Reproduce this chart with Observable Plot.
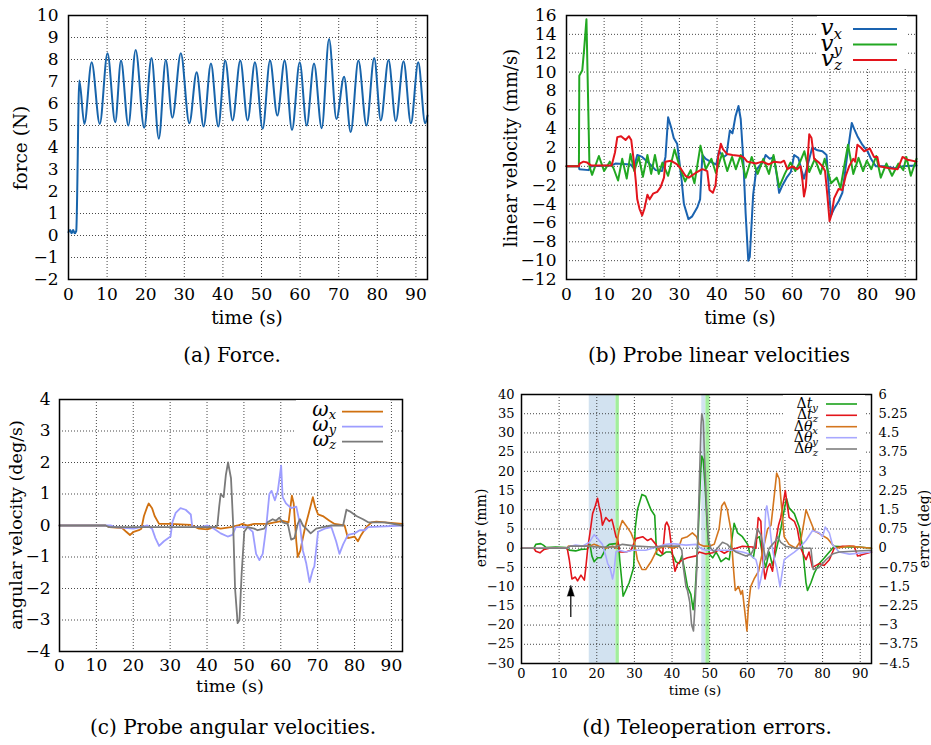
<!DOCTYPE html>
<html><head><meta charset="utf-8">
<script src="https://cdn.jsdelivr.net/npm/d3@7"></script>
<script src="https://cdn.jsdelivr.net/npm/@observablehq/plot@0.6"></script>
<style>
body{margin:0;background:#fff;}
#root{position:relative;width:931px;height:745px;background:#fff;font-family:"DejaVu Serif",serif;color:#000;overflow:hidden;}
.panel{position:absolute;}
.cap{position:absolute;font-size:20px;line-height:24px;white-space:nowrap;transform:translateX(-50%);}
</style></head><body><div id="root"></div>
<script>
// ---------- ticks ----------
const timeTicks = [0,10,20,30,40,50,60,70,80,90];
const forceTicks = [-2,-1,0,1,2,3,4,5,6,7,8,9,10];
const linTicks = [-12,-10,-8,-6,-4,-2,0,2,4,6,8,10,12,14,16];
const angTicks = [-4,-3,-2,-1,0,1,2,3,4];
const mmTicks = [-30,-25,-20,-15,-10,-5,0,5,10,15,20,25,30,35,40];
const degPerMm = 0.15; // right axis: 6 deg <-> 40 mm

// ---------- captions / labels ----------
const captions = ["(a) Force.", "(b) Probe linear velocities", "(c) Probe angular velocities.", "(d) Teleoperation errors."];
const timeLabel = "time (s)";
const yLabels = ["force (N)", "linear velocity (mm/s)", "angular velocity (deg/s)", "error (mm)", "error (deg)"];

// ---------- (a) force [t, N] ----------
const force = [[0,0.15],[0.4,0.25],[0.8,0.1],[1.2,0.25],[1.6,0.1],[2.0,0.2],[2.8,7.04],[4.1,5.07],[6.0,7.87],[8.1,5.07],[10.1,8.28],[12.1,5.15],[13.6,7.95],[15.5,5.0],[17.4,8.43],[19.6,4.9],[21.5,8.07],[23.4,4.4],[25.2,7.98],[26.9,5.35],[29.1,8.28],[31.3,5.1],[33.2,7.42],[35.0,4.95],[36.9,7.82],[38.8,4.95],[40.6,7.95],[42.5,5.23],[44.5,7.95],[46.4,5.23],[48.3,7.87],[50.3,4.85],[52.2,7.95],[54.1,5.45],[56.0,7.95],[57.9,4.8],[59.9,7.87],[61.7,5.0],[63.6,7.82],[65.6,4.88],[67.5,8.93],[69.4,5.3],[71.4,7.22],[73.1,4.7],[75.1,7.95],[77.2,5.0],[79.2,8.07],[80.9,5.23],[82.9,7.98],[84.8,5.2],[86.8,7.92],[88.7,5.1],[90.6,7.87],[92.4,5.1],[93,5.45]];

// ---------- (b) linear velocities [t, mm/s] ----------
const vx = [[0,0],[3.3,0],[3.4,-0.3],[5.9,-0.4],[6.5,0],[12,0.1],[13,0.3],[17,0.2],[17.9,-0.2],[18.8,1.2],[20.1,1.0],[22,0.3],[23.7,-0.4],[25.4,-0.5],[26.3,1.0],[27.0,5.2],[27.9,4.0],[28.5,3.0],[29.4,2.4],[30.0,0.5],[30.6,-1.5],[31.2,-4.0],[32.4,-5.6],[33.4,-5.3],[34.8,-4.3],[35.5,-3.5],[36.1,1.2],[37.0,0.8],[38.7,0.4],[39.8,0.2],[40.5,1.6],[41.8,1.0],[42.5,1.2],[43.4,3.8],[44.1,3.5],[44.9,5.3],[45.7,6.4],[46.3,5.0],[47.0,0.5],[47.6,-5],[48.3,-10],[48.7,-9.6],[49.6,-3],[50.4,-0.4],[51.6,0.2],[52.3,0.5],[52.9,1.2],[54.0,0.8],[55.1,1.0],[55.9,-1.0],[56.5,-2.8],[57.4,-2.0],[58.5,-1.2],[59.6,-0.6],[60.5,1.2],[61.6,0.9],[62.5,-0.5],[63.1,-1.3],[64.0,0.0],[65.3,2.0],[66.7,1.7],[68.0,1.6],[69.1,1.2],[69.8,-3],[70.3,-5.2],[71.1,-4.5],[72.3,-3.7],[73.3,-2.8],[74.6,1.2],[75.8,4.6],[76.4,4.0],[77.3,3.2],[78.6,2.3],[80.0,1.6],[80.9,0.8],[82.2,0.0],[84.9,0.0],[87.1,-0.2],[89.3,0.0],[93,0.1]];
const vy = [[0,0],[3.3,0],[3.4,9.6],[4.2,10.2],[4.7,12.5],[5.3,15.6],[6.1,0],[6.8,-0.9],[8.6,1.1],[10.0,-0.5],[11.5,0.5],[12.5,-0.2],[13.7,-1.5],[14.8,0.8],[16.0,-1.3],[17.0,1.3],[18.0,-0.5],[19.2,1.0],[20.3,-1.1],[21.5,1.2],[22.5,-0.8],[23.5,1.2],[24.5,-0.8],[25.5,0.4],[27.0,-1.0],[28.7,1.8],[30.2,-0.2],[31.5,-1.6],[33.0,-0.4],[34.0,-1.8],[35.6,2.2],[37.0,-0.3],[38.5,0.8],[39.7,-0.7],[41.4,1.4],[42.7,-0.5],[44.0,1.0],[45.0,-0.3],[46.3,1.2],[47.6,-1.2],[49.2,1.0],[50.8,-0.8],[52.3,0.8],[53.8,-0.8],[55.0,1.2],[56.5,-2.2],[58.0,-0.8],[59.5,0.4],[60.8,-0.5],[62.2,0.6],[63.2,1.6],[64.5,-0.6],[66.0,0.8],[67.5,-0.8],[68.6,0.8],[70.3,-1.8],[71.8,-1.2],[72.8,-2.3],[74.0,0.5],[74.8,2.3],[76.2,-0.8],[77.6,0.9],[78.8,-0.5],[79.8,0.6],[81.0,-0.3],[82.3,1.1],[83.5,-1.2],[85.0,0.3],[86.5,-1.0],[88.2,0.3],[89.5,-0.4],[90.3,1.0],[91.5,-1.0],[93,0.8]];
const vz = [[0,0],[3.3,0],[3.5,0.3],[4.5,0.5],[5.5,0.4],[6.5,0.1],[12.0,0.1],[12.9,1.5],[13.5,3.1],[14.5,3.2],[15.7,2.8],[16.6,3.2],[17.2,2.8],[17.9,0.5],[18.4,-1.5],[18.8,-3.5],[19.4,-4.5],[20.1,-5.2],[20.7,-4.5],[21.5,-3.0],[22.1,-3.5],[23.0,-2.9],[24.1,-2.7],[25.0,-2.2],[25.9,-1.2],[26.3,0.5],[27.7,0.6],[29.4,0.2],[30.3,-0.2],[31.6,-1.0],[32.5,-1.2],[34.3,-0.7],[36.1,-0.3],[37.4,-0.5],[38.0,-2.5],[38.9,-2.8],[39.6,-2.0],[40.3,1.0],[41.0,2.4],[41.6,1.8],[42.7,1.3],[44.1,1.2],[46.3,1.1],[47.2,0.9],[48.0,0.5],[50.3,0.3],[52.0,0.5],[53.8,0.2],[55.1,0.5],[56.9,0.4],[57.8,0.6],[58.7,-0.3],[60.0,0.0],[61.3,-0.3],[62.2,0.0],[62.7,-1.5],[63.1,-3.2],[63.6,-2.2],[64.5,3.4],[65.1,3.0],[65.8,0.8],[67.1,0.4],[68.0,0.0],[68.7,-0.5],[69.3,-3.0],[69.9,-5.8],[70.5,-5.0],[71.1,-3.4],[72.3,-2.4],[73.3,-2.5],[74.2,-1.0],[75.1,0.0],[76.2,0.8],[76.7,0.5],[77.3,2.3],[78.2,2.0],[79.1,1.6],[80.6,1.9],[81.7,1.0],[82.6,1.0],[83.1,0.0],[85.8,-0.2],[88.0,-0.3],[89.3,1.0],[90.6,0.7],[93,0.5]];

// ---------- (c) angular velocities [t, deg/s] ----------
const wx = [[0,0],[12.5,0],[13.5,-0.05],[17,-0.08],[18.1,-0.2],[19.1,-0.3],[20.1,-0.2],[21.5,-0.15],[22.2,-0.1],[22.9,0.3],[23.8,0.6],[24.2,0.7],[25.1,0.55],[25.8,0.3],[27.0,0.05],[30.1,0.05],[35.6,0.02],[37.8,-0.1],[40.1,-0.12],[41.9,-0.05],[43.7,-0.1],[46.5,-0.05],[48.3,0.0],[49.6,0.05],[51.0,0.0],[52.8,0.05],[56.4,0.05],[58.3,0.1],[60.5,0.15],[62.1,0.1],[63.0,0.95],[63.5,0.7],[64.2,-0.5],[64.6,-1.0],[65.3,-0.8],[65.8,-0.5],[66.7,0.0],[67.6,0.4],[68.7,0.9],[69.3,0.6],[70.1,0.35],[71.4,0.3],[73.2,0.15],[74.6,0.05],[77.3,0.0],[78.2,-0.4],[80.0,-0.35],[80.9,-0.5],[81.8,-0.3],[83.2,-0.05],[84.6,0.1],[85.9,0.12],[88.2,0.1],[93,0.05]];
const wy = [[0,0],[14,0],[15,-0.05],[20.1,-0.1],[22.0,-0.05],[23.8,0.0],[25.1,-0.1],[26.0,-0.4],[27.0,-0.65],[28.3,-0.5],[30.1,-0.35],[30.6,0.1],[31.5,0.4],[32.8,0.55],[34.2,0.5],[35.6,0.35],[36.0,-0.05],[38.3,-0.05],[40.1,0.0],[41.9,-0.1],[43.7,-0.25],[45.6,-0.35],[46.9,-0.3],[47.8,-0.05],[51.0,-0.05],[52.4,-0.2],[53.3,-0.9],[54.2,-1.1],[55.1,-0.9],[56.0,-0.1],[56.9,1.0],[57.5,1.1],[58.4,0.8],[59.2,1.1],[60.1,1.9],[60.5,0.9],[61.4,0.7],[62.8,0.55],[64.2,0.6],[65.1,0.1],[66.0,-0.8],[66.9,-1.2],[67.8,-1.8],[68.7,-1.4],[69.1,-1.3],[70.1,-0.2],[71.9,-0.1],[73.7,-0.05],[75.0,-0.5],[75.9,-0.9],[76.9,-0.6],[78.2,-0.3],[80.0,-0.25],[81.4,-0.15],[82.8,-0.15],[83.7,-0.05],[93,0.0]];
const wz = [[0,0],[12.5,0],[13.5,-0.05],[19,-0.05],[29,-0.05],[40.1,-0.05],[42.4,-0.05],[42.8,0.0],[43.3,0.6],[43.7,1.0],[44.5,0.9],[45.1,1.6],[45.7,2.0],[46.5,1.5],[47.1,0.0],[47.6,-2.0],[48.3,-3.1],[48.8,-3.0],[49.4,-1.5],[50.1,-0.2],[51.0,-0.05],[52.8,-0.1],[53.7,-0.15],[55.5,-0.1],[56.4,0.1],[57.8,0.2],[58.7,0.15],[59.6,0.25],[60.5,0.1],[61.9,0.05],[62.8,-0.45],[63.7,-0.4],[64.6,0.05],[65.2,0.2],[66.0,0.0],[66.9,-0.1],[68.1,-0.25],[69.6,-0.1],[71.4,-0.05],[73.7,0.0],[76.9,0.0],[77.8,0.5],[78.7,0.45],[80.5,0.3],[82.3,0.2],[83.7,0.1],[88.2,0.1],[93,0.0]];

// ---------- (d) errors: translation [t, mm], rotation [t, deg] ----------
const dty = [[0,0],[3.3,0],[3.8,1.0],[5.1,1.2],[5.8,0.8],[6.5,0.2],[9.1,0.3],[11.8,0.2],[12.7,-0.5],[14.4,-0.7],[15.8,-0.3],[17.5,-0.2],[18.2,1.0],[18.7,-2.0],[19.3,-3.5],[20.2,-2.5],[21.1,-2.5],[21.7,-1.5],[22.4,0.2],[23.3,1.0],[25.1,1.2],[25.8,1.0],[26.1,-3],[26.6,-8],[27.0,-12.5],[27.7,-11],[28.6,-9],[29.2,-7],[29.8,-5],[30.2,5],[30.8,10],[32.0,14],[33.0,13.5],[34.4,10],[35.4,8.5],[35.9,-1.5],[37.0,-2.0],[38.4,-1.0],[39.7,-1.0],[40.6,-2.5],[41.0,-3.5],[41.9,-4],[42.6,-2],[43.2,-5],[44.1,-10],[45.0,-12],[45.6,-16],[46.1,-12],[46.5,-5],[47.0,5],[47.6,20],[47.9,24],[48.3,23],[48.8,16],[49.4,5],[49.9,-1.5],[50.8,-2.5],[51.7,-1.0],[52.3,-2.0],[53.0,-3.5],[54.3,-2.5],[55.2,-3.0],[56.5,6.5],[57.4,4],[58.7,3],[60.1,1],[60.7,-1.5],[61.6,-2.5],[62.4,2.5],[63.2,3.0],[64.0,-1.5],[64.9,-5],[65.8,-1],[66.7,-4.5],[67.8,0],[68.9,5],[69.8,10],[70.4,13],[71.1,10.5],[72.5,9],[73.8,5.5],[74.7,0],[75.6,-9],[76.0,-11],[76.9,-9],[77.8,-6.5],[79.1,-4],[80.5,-2.5],[81.8,-1],[83.1,0.5],[87.1,0.3],[89.7,0.3],[93,0]];
const dtz = [[0,0],[3.3,0],[3.8,-0.8],[4.9,-1.2],[6.0,-0.3],[7.4,0],[11.8,0],[12.2,-0.3],[12.7,-3],[13.4,-8],[14.3,-7.5],[14.9,-8.5],[15.8,-7],[16.7,-8.3],[17.1,-5],[17.6,0],[18.2,4],[18.9,9],[19.6,11],[20.2,13],[20.6,11],[21.1,9],[21.5,6],[22.4,8],[23.3,7],[24.0,7.5],[24.4,6],[25.1,3],[25.5,2.5],[26.1,-1],[27.7,-1],[29.1,-0.5],[30.4,2.5],[32.2,3],[33.5,2],[34.4,2.5],[35.7,1],[36.6,-0.5],[37.5,-1.5],[38.2,6],[38.6,6.8],[39.2,5.5],[40.3,-3],[40.8,-6],[41.5,-4],[42.8,-3],[44.1,-2.5],[46.4,-2],[47.2,-1],[49.0,-1.5],[50.8,-1.2],[52.5,-0.5],[53.9,-1.3],[55.7,-0.3],[57.0,0],[58.7,0.5],[61.4,0.3],[62.3,0],[62.9,8],[63.6,7],[64.0,-2],[64.7,-8],[65.4,-5],[66.0,-4],[66.7,-6],[67.6,2],[68.3,6],[68.9,8],[70.1,15],[70.5,12],[71.1,8],[72.5,7],[73.3,5],[74.2,0],[75.1,-2],[75.6,-3],[76.4,-1],[77.3,-5],[79.1,-4],[80.4,-4.5],[81.8,-3],[83.1,0],[85.3,0.5],[88.4,0.5],[89.3,-2],[91.1,-1.5],[93,-1.0]];
const dthx = [[0,0],[12,0],[12.5,0.08],[16.2,0.08],[18,0.08],[19.3,0.15],[20.6,0.08],[22.4,0],[24.2,0.08],[25.1,0],[26.0,0.75],[26.8,1.08],[27.7,0.9],[29.1,0.6],[29.9,0.3],[30.8,-0.45],[32.0,-0.83],[33.0,-0.83],[34.4,-0.53],[35.7,-0.15],[36.6,0],[38.4,0.08],[40.1,0],[41.9,0.08],[42.6,0.38],[44.1,0.45],[45.4,0.6],[46.5,0.45],[47.2,0.15],[48.5,0.08],[49.9,0.08],[51.2,0.15],[52.5,0.75],[53.2,1.65],[53.9,1.8],[54.7,1.5],[55.6,0.75],[56.3,-0.75],[56.8,-1.65],[57.7,-1.5],[58.3,-1.8],[58.7,-1.65],[59.4,-2.55],[59.9,-3.23],[60.3,-2.25],[60.9,-1.5],[61.8,-1.2],[63.0,-0.9],[63.6,-0.45],[64.5,0.15],[65.4,0.75],[66.3,0.9],[67.2,2.1],[67.8,2.93],[68.5,2.7],[68.9,1.95],[69.8,0.45],[71.1,0.15],[72.9,0],[74.2,0.3],[75.1,1.05],[75.6,1.5],[76.4,1.2],[77.8,0.68],[79.6,0.53],[81.3,0.38],[82.6,0.15],[83.5,0],[87.1,0.08],[93,0]];
const dthy = [[0,0],[12,0],[13,0.08],[14.4,0.12],[16.2,0.08],[18.0,0.23],[19.3,0.53],[20.2,0.38],[21.5,0.15],[22.4,-0.3],[22.9,-0.6],[23.5,-0.75],[24.2,-1.2],[24.6,-0.9],[25.1,-0.15],[26.0,-0.08],[27.7,-0.15],[29.5,-0.08],[33.0,-0.08],[35.5,0.03],[38.4,0.15],[40.1,0.18],[43.7,0.12],[46.3,0.15],[47.6,0],[49.0,-0.08],[52.5,-0.08],[56.0,-0.08],[58.7,-0.15],[60.5,-0.23],[62.3,-0.45],[62.8,-0.75],[63.0,-1.58],[63.6,-1.2],[64.2,-0.75],[64.9,1.5],[65.2,1.65],[65.8,1.05],[66.5,0.15],[67.2,-0.45],[67.8,-0.75],[68.7,-1.5],[69.8,-0.45],[71.1,-0.3],[72.5,-0.15],[73.8,0],[75.6,0.3],[77.3,0.68],[79.1,0.6],[80.0,0.45],[80.7,0.83],[81.8,0.6],[82.6,0.15],[84.4,-0.15],[87.1,-0.23],[93,-0.15]];
const dthz = [[0,0],[12,0],[13,0.08],[17.5,0.08],[20,0.05],[25,0.05],[26.8,0.15],[30.4,0.08],[35,0.05],[38.4,0.08],[41.9,0.08],[42.6,-0.08],[43.0,-0.75],[43.7,-1.5],[44.1,-1.65],[44.7,-2.1],[45.2,-3.0],[45.7,-3.23],[46.1,-2.25],[46.6,-0.75],[47.2,2.25],[47.7,4.8],[47.9,5.25],[48.3,4.95],[48.6,3.75],[49.2,1.5],[49.7,0.3],[50.3,0],[51.2,-0.15],[52.5,0.08],[53.4,0.23],[54.7,0.15],[55.6,0],[57.0,-0.15],[58.3,-0.23],[59.6,-0.3],[61.0,-0.23],[61.8,0],[62.7,0.75],[63.6,0.53],[64.9,-0.45],[65.8,0],[66.7,0.15],[67.6,0.3],[68.0,0.45],[68.9,0.23],[70.2,0.08],[72.9,0],[76.9,0],[77.5,-0.83],[79.1,-0.75],[80.9,-0.45],[82.6,-0.23],[84.4,-0.15],[93,-0.08]];

// shaded time intervals and the arrow annotation of panel (d)
const bands = [{t1:18.0,t2:25.1,kind:"a"},{t1:25.1,t2:26.0,kind:"b"},{t1:47.9,t2:49.0,kind:"a"},{t1:49.0,t2:50.1,kind:"b"}];
const arrowNote = [{t:13.1, from:-18, to:-12.5}];

// ---------- helpers ----------
const FONT = '"DejaVu Serif", serif';
const root = document.getElementById("root");
const gridStyle = {stroke:"#333", strokeOpacity:0.9, strokeWidth:1, strokeDasharray:"1,2"};
const fmtDeg = v => { const r = Math.round(v*100)/100; return r < 0 ? "\u2212" + (-r) : String(r); };

function place(el, left, top) {
  const div = document.createElement("div");
  div.className = "panel";
  div.style.left = left + "px"; div.style.top = top + "px";
  div.appendChild(el); root.appendChild(div);
}

function addText(svg, x, y, txt, fs, rotate) {
  d3.select(svg).append("text")
    .attr("transform", `translate(${x},${y})` + (rotate ? " rotate(-90)" : ""))
    .attr("text-anchor", "middle").attr("dy", "0.35em")
    .attr("font-family", FONT).attr("font-size", fs).attr("fill", "#000")
    .text(txt);
}

function addLegend(svg, L) {
  const g = d3.select(svg).append("g").attr("font-family", FONT);
  g.append("rect").attr("x", L.box[0]).attr("y", L.box[1]).attr("width", L.box[2]).attr("height", L.box[3]).attr("fill", "#fff");
  L.items.forEach((it, i) => {
    const y = L.ys[i];
    const t = g.append("text").attr("x", L.xText).attr("y", y + L.base).attr("text-anchor", "end").attr("font-size", L.fs).attr("fill", "#000");
    if (it.pre) t.append("tspan").text(it.pre);
    t.append("tspan").attr("font-style", "italic").text(it.sym);
    t.append("tspan").attr("font-style", "italic").attr("font-size", L.sub).attr("dy", L.subDy).text(it.sub);
    g.append("line").attr("x1", L.x1).attr("x2", L.x2).attr("y1", y).attr("y2", y).attr("stroke", it.color).attr("stroke-width", L.lw);
  });
}

function panel(cfg) {
  const marks = [];
  if (cfg.under) marks.push(...cfg.under);
  marks.push(Plot.gridX(timeTicks, gridStyle));
  marks.push(Plot.gridY(cfg.yTicks, gridStyle));
  cfg.series.forEach(s => marks.push(Plot.line(s.data, {
    x: d => d[0], y: s.scale ? (d => d[1] / s.scale) : (d => d[1]),
    stroke: s.color, strokeWidth: cfg.sw, curve: cfg.curve || "linear"
  })));
  if (cfg.over) marks.push(...cfg.over);
  marks.push(Plot.axisX(timeTicks, {anchor:"bottom", tickSize:0, tickPadding:cfg.xPad, label:null, fontSize:cfg.fs}));
  marks.push(Plot.axisY(cfg.yTicks, {anchor:"left", tickSize:0, tickPadding:cfg.yPad, label:null, fontSize:cfg.fs}));
  if (cfg.right) marks.push(cfg.right);
  marks.push(Plot.frame({stroke:"#000", strokeWidth:1.5}));
  const svg = Plot.plot({
    width: cfg.w, height: cfg.h,
    marginLeft: cfg.m[0], marginRight: cfg.m[1], marginTop: cfg.m[2], marginBottom: cfg.m[3],
    x: {domain:[0,93]}, y: {domain: cfg.yDomain},
    style: {fontFamily: FONT, fontSize: cfg.fs + "px", color: "#000", background: "transparent", overflow: "visible"},
    marks
  });
  return svg;
}

// ---------- (a) ----------
{
  const svg = panel({w:465, h:340, m:[68,38,15,61], yDomain:[-2,10], yTicks:forceTicks, fs:17, xPad:8, yPad:10, sw:2,
    curve:"monotone-x", series:[{data:force, color:"#1764ab"}]});
  addText(svg, 21, 148, yLabels[0], 18.5, true);
  addText(svg, 247, 318, timeLabel, 18.5, false);
  place(svg, 0, 0);
}
// ---------- (b) ----------
{
  const cols = ["#1a63b0", "#22a822", "#e3141c"];
  const svg = panel({w:466, h:340, m:[101,15,15,61], yDomain:[-12,16], yTicks:linTicks, fs:17, xPad:8, yPad:10, sw:2,
    series:[{data:vx, color:cols[0]},{data:vy, color:cols[1]},{data:vz, color:cols[2]}]});
  addText(svg, 46, 148, yLabels[1], 18, true);
  addText(svg, 275, 318, timeLabel, 18.5, false);
  addLegend(svg, {box:[352,16,90,52], xText:377, x1:388, x2:432, ys:[29,44.5,60], base:6, fs:23, sub:15, subDy:4, lw:2,
    items:[{sym:"v", sub:"x", color:cols[0]},{sym:"v", sub:"y", color:cols[1]},{sym:"v", sub:"z", color:cols[2]}]});
  place(svg, 465, 0);
}
// ---------- (c) ----------
{
  const cols = ["#d0700f", "#9d9dff", "#7a7a7a"];
  const svg = panel({w:465, h:330, m:[59,63,19,59], yDomain:[-4,4], yTicks:angTicks, fs:17, xPad:7, yPad:9, sw:1.8,
    series:[{data:wx, color:cols[0]},{data:wy, color:cols[1]},{data:wz, color:cols[2]}]});
  addText(svg, 16, 145, yLabels[2], 17.5, true);
  addText(svg, 230, 306, timeLabel, 17.5, false);
  addLegend(svg, {box:[296,20,94,48], xText:336, x1:342, x2:383, ys:[31.7,46.7,61.7], base:4, fs:20, sub:13, subDy:3.5, lw:1.8,
    items:[{sym:"\u03c9", sub:"x", color:cols[0]},{sym:"\u03c9", sub:"y", color:cols[1]},{sym:"\u03c9", sub:"z", color:cols[2]}]});
  place(svg, 0, 380);
}
// ---------- (d) ----------
{
  const cols = ["#1ca21c", "#e3151b", "#d4761e", "#a8a8ff", "#7f7f7f"];
  const bandFill = {a:"#d2e2f0", b:"#a2ee9c"};
  const under = [Plot.rect(bands, {x1:"t1", x2:"t2", fill: d => bandFill[d.kind]})];
  const over = [
    Plot.ruleX(arrowNote, {x:"t", y1:"from", y2:"to", stroke:"#000", strokeWidth:1.2}),
    Plot.vector(arrowNote, {x:"t", y:"to", length:11, rotate:0, shape:"spike", r:3.5, anchor:"start", fill:"#000", stroke:"#000", strokeWidth:0.5})
  ];
  const right = Plot.axisY(mmTicks, {anchor:"right", tickSize:0, tickPadding:7, label:null, fontSize:13, tickFormat: d => fmtDeg(d * degPerMm)});
  const svg = panel({w:466, h:330, m:[56,60,14,47], yDomain:[-30,40], yTicks:mmTicks, fs:13, xPad:5, yPad:7, sw:1.6,
    under, over, right,
    series:[{data:dty, color:cols[0]},{data:dtz, color:cols[1]},
            {data:dthx, color:cols[2], scale:degPerMm},{data:dthy, color:cols[3], scale:degPerMm},{data:dthz, color:cols[4], scale:degPerMm}]});
  addText(svg, 16, 148, yLabels[3], 14, true);
  addText(svg, 459, 149, yLabels[4], 14, true);
  addText(svg, 230, 310, timeLabel, 13.5, false);
  addLegend(svg, {box:[318,15,82,64], xText:353, x1:361, x2:392, ys:[24,35.3,46.7,57.7,69], base:4, fs:14, sub:10, subDy:3, lw:1.6,
    items:[{pre:"\u0394", sym:"t", sub:"y", color:cols[0]},{pre:"\u0394", sym:"t", sub:"z", color:cols[1]},
           {pre:"\u0394", sym:"\u03b8", sub:"x", color:cols[2]},{pre:"\u0394", sym:"\u03b8", sub:"y", color:cols[3]},
           {pre:"\u0394", sym:"\u03b8", sub:"z", color:cols[4]}]});
  place(svg, 465, 380);
}

// ---------- captions ----------
[[232,343],[719,343],[233,715],[707,715]].forEach((p, i) => {
  const c = document.createElement("div");
  c.className = "cap"; c.style.left = p[0] + "px"; c.style.top = p[1] + "px";
  c.textContent = captions[i];
  root.appendChild(c);
});
</script></body></html>
